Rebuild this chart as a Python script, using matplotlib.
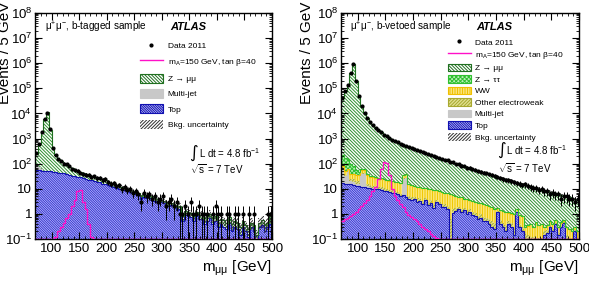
import numpy as np
import matplotlib
matplotlib.use('Agg')
import matplotlib.pyplot as plt
from matplotlib.patches import Patch
from matplotlib.lines import Line2D
from matplotlib.ticker import FixedLocator, FixedFormatter, MultipleLocator, LogLocator, NullFormatter

plt.rcParams['font.family'] = ['Liberation Sans', 'DejaVu Sans']
plt.rcParams['mathtext.fontset'] = 'custom'
plt.rcParams['mathtext.rm'] = 'Liberation Sans'
plt.rcParams['mathtext.it'] = 'Liberation Sans:italic'
plt.rcParams['mathtext.bf'] = 'Liberation Sans:bold'
plt.rcParams['hatch.linewidth'] = 0.7

# ---------------- data (5 GeV bins from 70 to 500 GeV) ----------------
bin_edges = np.arange(70, 505, 5)

# b-tagged sample
top_b = [56, 54, 52, 51, 50, 49, 47, 45, 44, 43,
         41, 38, 36, 33, 32, 30, 29, 27, 25, 23,
         22, 20, 19, 18, 16, 15, 14, 13, 12, 11,
         10, 9.5, 9, 8, 7.5, 6.5, 6, 5.5, 3.8, 4.8,
         4.2, 4.2, 3.7, 3.4, 3.1, 2.9, 2.6, 2.3, 2.1, 2.2,
         1.8, 1.4, 1.6, 0.5, 0.9, 0.85, 0.75, 0.5, 0.85, 0.6,
         0.6, 0.4, 0.5, 0.7, 0.4, 0.5, 0.3, 0.4, 0.3, 0.25,
         0.45, 0.2, 0.3, 0.25, 0.15, 0.3, 0.2, 0.12, 0.3, 0.2,
         0.05, 0.3, 0.35, 0.2, 0.3, 0.4]
multijet_b = [30, 20, 10, 0, 0, 0, 0, 0, 0, 0,
              0, 0, 0, 0, 0, 0, 0, 0, 0, 0,
              0, 0, 0, 0, 0, 0, 0, 0, 0, 0,
              0, 0, 0, 0, 0, 0, 0, 0, 0, 0,
              0, 0, 0, 0, 0, 0, 0, 0, 0, 0,
              0, 0, 0, 0, 0, 0, 0, 0, 0, 0,
              0, 0, 0, 0, 0, 0, 0, 0, 0, 0,
              0, 0, 0, 0, 0, 0, 0, 0, 0, 0,
              0, 0, 0, 0, 0, 0]
zmumu_b = [165, 525, 1740, 5950, 10950, 2150, 350, 175, 116, 82,
           64, 52, 39, 32, 25, 20, 16, 14, 13, 12,
           10, 10, 9, 8, 8, 7, 6, 4, 3, 3,
           3, 2.5, 2, 2, 1.5, 1.5, 1, 1, 1.2, 1,
           1, 0.8, 0.8, 0.8, 0.7, 0.6, 0.6, 0.6, 0.5, 0.5,
           0.5, 0.4, 0.4, 0.3, 0.4, 0.35, 0.35, 0.3, 0.35, 0.3,
           0.3, 0.3, 0.3, 0.3, 0.3, 0.3, 0.25, 0.25, 0.25, 0.2,
           0.3, 0.2, 0.2, 0.2, 0.15, 0.2, 0.15, 0.13, 0.15, 0.15,
           0.1, 0.15, 0.2, 0.15, 0.15, 0.5]
unc_b = [0.06, 0.06, 0.06, 0.06, 0.06, 0.06, 0.06, 0.06, 0.06, 0.06,
         0.08, 0.08, 0.08, 0.08, 0.08, 0.08, 0.08, 0.08, 0.08, 0.08,
         0.1, 0.1, 0.1, 0.1, 0.1, 0.1, 0.1, 0.1, 0.1, 0.1,
         0.15, 0.15, 0.15, 0.15, 0.15, 0.15, 0.15, 0.15, 0.15, 0.15,
         0.2, 0.2, 0.2, 0.2, 0.2, 0.2, 0.2, 0.2, 0.2, 0.2,
         0.3, 0.3, 0.3, 0.3, 0.3, 0.3, 0.3, 0.3, 0.3, 0.3,
         0.4, 0.4, 0.4, 0.4, 0.4, 0.4, 0.4, 0.4, 0.4, 0.4,
         0.5, 0.5, 0.5, 0.5, 0.5, 0.5, 0.5, 0.5, 0.5, 0.5,
         0.5, 0.5, 0.5, 0.5, 0.5, 0.5]
data_b = [260, 620, 1750, 6100, 10800, 2300, 420, 230, 150, 130,
          100, 95, 80, 60, 55, 52, 44, 40, 36, 37,
          30, 31, 26, 27, 22, 24, 19, 16, 17, 13,
          14, 10, 12, 9, 10, 7, 8, 6, 3, 7,
          5, 6, 4, 5, 3, 4, 5, 2, 3, 4,
          2, 3, 1, 1, 2, 1, 3, 1, 1, 2,
          1, 1, 1, 0, 1, 2, 1, 1, 0, 1,
          1, 0, 1, 1, 0, 1, 0, 1, 0, 1,
          0, 0, 0, 0, 1, 1]
signal_b = [0, 0, 0, 0, 0, 0, 0, 0.12, 0.2, 0.3,
            0.45, 0.7, 1.0, 2.0, 3.5, 8, 9, 3, 1.5, 0.4,
            0.12, 0, 0, 0, 0, 0, 0, 0, 0, 0,
            0, 0, 0, 0, 0, 0, 0, 0, 0, 0,
            0, 0, 0, 0, 0, 0, 0, 0, 0, 0,
            0, 0, 0, 0, 0, 0, 0, 0, 0, 0,
            0, 0, 0, 0, 0, 0, 0, 0, 0, 0,
            0, 0, 0, 0, 0, 0, 0, 0, 0, 0,
            0, 0, 0, 0, 0, 0]

# b-vetoed sample
top_v = [17, 16, 15, 15, 14, 13, 13, 12, 12, 11,
         11, 10, 10, 9.5, 9, 8.5, 8, 7.5, 7, 6.5,
         6, 5, 5.5, 4.5, 4, 3.5, 3.8, 3, 3.2, 2.5,
         3.5, 2.2, 2.8, 1.7, 3.0, 2.4, 1.8, 1.9, 1.5, 0.1,
         1.1, 1.3, 1.5, 1.2, 1.4, 1.0, 1.2, 0.9, 0.8, 0.6,
         0.7, 0.5, 0.5, 0.4, 0.3, 0.25, 1.2, 0.4, 0.3, 0.2,
         0.4, 0.3, 0.15, 1.2, 0.3, 0.2, 0.1, 0.06, 0.05, 0.05,
         0.05, 0.05, 0.05, 0.15, 0.18, 0.3, 0.2, 0.4, 0.15, 0.3,
         0.45, 0.1, 0.05, 0.05, 0.2, 0.05]
multijet_v = [50, 15, 35, 5, 5, 3, 3, 28, 28, 2,
              1, 1, 1, 0.5, 0.5, 0, 0, 0, 0, 0,
              0, 0, 20, 22, 0, 0, 0, 0, 0, 0,
              0, 0, 0, 0, 0, 0, 0, 0, 0, 0,
              0, 0, 0, 0, 0, 0, 0, 0, 0, 0,
              0, 0, 0, 0, 0, 0, 0, 0, 0, 0,
              0, 0, 0, 0, 0, 0, 0, 0, 0, 0,
              0, 0, 0, 0, 0, 0, 0, 0, 0, 0,
              0, 0, 0, 0, 0, 0]
ew_v = [6, 5, 5, 5, 5, 4, 4, 3, 3, 3,
        2.5, 2.5, 2.3, 2.2, 2, 2, 1.8, 1.8, 1.6, 1.6,
        1.5, 1.4, 1.3, 1.3, 1.2, 1.1, 1.1, 1, 1, 0.9,
        0.9, 0.8, 0.8, 0.7, 0.7, 0.6, 0.6, 0.6, 0.5, 0.5,
        0.5, 0.4, 0.4, 0.4, 0.35, 0.35, 0.3, 0.3, 0.3, 0.25,
        0.25, 0.25, 0.2, 0.2, 0.2, 0.2, 0.15, 0.15, 0.15, 0.15,
        0.12, 0.12, 0.1, 0.1, 0.1, 0.1, 0.08, 0.08, 0.07, 0.07,
        0.06, 0.06, 0.06, 0.05, 0.05, 0.05, 0.05, 0.05, 0.04, 0.04,
        0.04, 0.04, 0.04, 0.03, 0.03, 0.03]
ww_v = [7, 14, 5, 15, 16, 15, 15, 12, 12, 19,
        15.5, 16.5, 14.7, 13.8, 13.5, 13.5, 12.2, 11.7, 11.4, 10.9,
        10.5, 10.6, 9.2, 10, 9.8, 9.4, 8.1, 8, 7.8, 7.6,
        6.6, 7, 6.4, 6.6, 5.3, 5, 5.1, 4.5, 4.5, 5.4,
        3.9, 3.3, 2.6, 2.9, 2.25, 2.65, 2, 2, 1.9, 1.95,
        1.65, 1.65, 1.5, 1.4, 1.3, 1.15, 0.3, 0.85, 0.85, 0.85,
        0.6, 0.6, 0.75, 0.3, 0.5, 0.5, 0.12, 0.2, 0.28, 0.18,
        0.34, 0.24, 0.29, 0.1, 0.12, 0.15, 0.15, 0.1, 0.11, 0.11,
        0.05, 0.16, 0.16, 0.12, 0.07, 0.12]
ztautau_v = [150, 120, 90, 60, 40, 20, 10, 6, 4, 3,
             2, 1.5, 1.2, 1, 0.8, 0.7, 0.6, 0.5, 0.45, 0.4,
             0.35, 0.3, 0.3, 0.25, 0.2, 0.2, 0.18, 0.16, 0.15, 0.14,
             0.13, 0.12, 0.11, 0.1, 0.1, 0.09, 0.08, 0.08, 0.07, 0.07,
             0.06, 0.06, 0.05, 0.05, 0.05, 0.04, 0.04, 0.04, 0.04, 0.03,
             0.03, 0.03, 0.03, 0.03, 0.02, 0.02, 0.02, 0.02, 0.02, 0.02,
             0.02, 0.02, 0.02, 0.02, 0.02, 0.02, 0.01, 0.01, 0.01, 0.01,
             0.01, 0.01, 0.01, 0.01, 0.01, 0.01, 0.01, 0.01, 0.01, 0.01,
             0.01, 0.01, 0.01, 0.01, 0.01, 0.01]
zmumu_v = [39800, 74800, 139850, 420000, 900000, 200000, 49950, 19940, 9940, 6460,
           4570, 3470, 2670, 2120, 1725, 1425, 1197, 1029, 880, 771,
           682, 603, 524, 465, 445, 406, 372, 338, 308, 279,
           254, 230, 210, 191, 176, 162, 148.5, 136, 124.5, 114,
           104.5, 96, 88.5, 81.5, 75, 69, 63.5, 58.8, 54, 50.2,
           46.4, 42.6, 39.8, 37, 34.2, 31.4, 28.85, 26.6, 24.7, 22.8,
           21.4, 20, 18.5, 16.6, 15.9, 14.8, 14.2, 13.15, 12.1, 11.3,
           10.35, 9.65, 8.9, 8.4, 7.75, 7, 6.6, 6, 5.8, 5.25,
           4.8, 4.7, 4.35, 4.1, 3.7, 3.5]
unc_v = [0.03, 0.03, 0.03, 0.03, 0.03, 0.03, 0.03, 0.03, 0.03, 0.03,
         0.04, 0.04, 0.04, 0.04, 0.04, 0.04, 0.04, 0.04, 0.04, 0.04,
         0.05, 0.05, 0.05, 0.05, 0.05, 0.05, 0.05, 0.05, 0.05, 0.05,
         0.06, 0.06, 0.06, 0.06, 0.06, 0.06, 0.06, 0.06, 0.06, 0.06,
         0.08, 0.08, 0.08, 0.08, 0.08, 0.08, 0.08, 0.08, 0.08, 0.08,
         0.1, 0.1, 0.1, 0.1, 0.1, 0.1, 0.1, 0.1, 0.1, 0.1,
         0.12, 0.12, 0.12, 0.12, 0.12, 0.12, 0.12, 0.12, 0.12, 0.12,
         0.15, 0.15, 0.15, 0.15, 0.15, 0.15, 0.15, 0.15, 0.15, 0.15,
         0.15, 0.15, 0.15, 0.15, 0.15, 0.15]
data_v = [41000, 76000, 138000, 425000, 890000, 205000, 51000, 19800, 10100, 6400,
          4650, 3450, 2720, 2130, 1770, 1440, 1230, 1040, 910, 780,
          710, 610, 570, 500, 465, 415, 390, 345, 325, 285,
          270, 236, 225, 195, 190, 165, 160, 140, 135, 115,
          112, 98, 96, 84, 82, 70, 69, 60, 58, 50,
          48, 44, 41, 38, 35, 33, 30, 28, 24, 23,
          22, 20, 19, 17, 16, 14, 15, 13, 12, 11,
          11, 9, 10, 8, 8, 6, 7, 6, 6, 4,
          5, 5, 4, 4, 3, 4]
signal_v = [0.5, 0.6, 0.7, 0.8, 1.0, 1.2, 1.5, 2, 2.6, 3.5,
            5, 8, 12, 25, 60, 115, 110, 35, 10, 5,
            3.5, 2.5, 1.8, 1.2, 0.9, 0.75, 0.6, 0.5, 0.4, 0.3,
            0.25, 0.2, 0.16, 0.13, 0.11, 0.1, 0, 0, 0, 0,
            0, 0, 0, 0, 0, 0, 0, 0, 0, 0,
            0, 0, 0, 0, 0, 0, 0, 0, 0, 0,
            0, 0, 0, 0, 0, 0, 0, 0, 0, 0,
            0, 0, 0, 0, 0, 0, 0, 0, 0, 0,
            0, 0, 0, 0, 0, 0]

ytick_vals = [1e-1, 1, 10, 1e2, 1e3, 1e4, 1e5, 1e6, 1e7, 1e8]
ytick_labels = [r'$10^{-1}$', '1', '10', r'$10^{2}$', r'$10^{3}$', r'$10^{4}$',
                r'$10^{5}$', r'$10^{6}$', r'$10^{7}$', r'$10^{8}$']
xtick_vals = [100, 150, 200, 250, 300, 350, 400, 450, 500]

# ---------------- styles ----------------
C_ZMM = dict(face='white', hatch='\\' * 10, hcol='#2f8f2f', line='#1f6f1f')
C_ZTT = dict(face='#b8f0b8', hatch='x' * 8, hcol='#30c030', line='#30c030')
C_WW = dict(face='#fff4b0', hatch='|' * 10, hcol='#f0c800', line='#f0c000')
C_EW = dict(face='#e0e090', hatch='/' * 10, hcol='#a8a830', line=None)
C_MJ = dict(face='#c8c8c8', hatch=None, hcol='#c8c8c8', line=None)
C_TOP = dict(face='#c8c8ff', hatch='\\' * 14, hcol='#3434d0', line='#1010b0')
UNC_HATCH = '/' * 10
SIG_COL = '#ff10c8'

W, H = 589, 281
fig = plt.figure(figsize=(W / 100, H / 100), dpi=100)


def px_axes(x0, x1, y0, y1):
    return fig.add_axes([x0 / W, 1 - y1 / H, (x1 - x0) / W, (y1 - y0) / H])


def draw_panel(ax, layers, unc, data, signal):
    edges = bin_edges
    nb = len(edges) - 1
    centers = 0.5 * (edges[:-1] + edges[1:])
    lower = np.full(nb, 1e-4)
    for vals, st in layers:
        upper = lower + np.asarray(vals, float)
        ax.stairs(upper, edges, baseline=lower, fill=True, facecolor=st['face'],
                  edgecolor=st['hcol'], hatch=st['hatch'], linewidth=0, zorder=1)
        lower = upper
    lo2 = np.full(nb, 1e-4)
    for vals, st in layers:
        up2 = lo2 + np.asarray(vals, float)
        if st['line']:
            ax.stairs(up2, edges, baseline=None, color=st['line'], lw=0.8, zorder=2)
        lo2 = up2
    total = lower
    u = np.asarray(unc)
    ax.stairs(total * (1 + u), edges, baseline=total * (1 - u), fill=True,
              facecolor='none', edgecolor='#303030', hatch=UNC_HATCH, linewidth=0, zorder=3)
    sig = np.maximum(np.asarray(signal, float), 0.1)
    ax.stairs(sig, edges, baseline=None, color=SIG_COL, lw=1.0, zorder=4)
    d = np.asarray(data, float)
    m = d > 0
    err = np.sqrt(d[m])
    lo = np.minimum(err, d[m] * 0.9999)
    ax.errorbar(centers[m], d[m], yerr=[lo, err], fmt='o', ms=2.0, color='black',
                elinewidth=0.7, capsize=0, zorder=5)

    ax.set_yscale('log')
    ax.set_ylim(1e-1, 1e8)
    ax.set_xlim(70, 500)
    ax.yaxis.set_major_locator(FixedLocator(ytick_vals))
    ax.yaxis.set_major_formatter(FixedFormatter(ytick_labels))
    ax.yaxis.set_minor_locator(LogLocator(base=10, subs=np.arange(2, 10), numticks=20))
    ax.yaxis.set_minor_formatter(NullFormatter())
    ax.xaxis.set_major_locator(FixedLocator(xtick_vals))
    ax.xaxis.set_minor_locator(MultipleLocator(10))
    ax.tick_params(which='both', direction='in', top=True, right=True, labelsize=9.5)
    ax.tick_params(which='major', length=5, width=0.8)
    ax.tick_params(which='minor', length=2.5, width=0.6)
    ax.tick_params(axis='x', pad=3)
    ax.tick_params(axis='y', pad=2)
    for s in ax.spines.values():
        s.set_linewidth(1.0)


def legend_handles(entries):
    hs = []
    for kind, st in entries:
        if kind == 'data':
            hs.append(Line2D([], [], marker='o', ls='none', ms=2.0, color='black'))
        elif kind == 'sig':
            hs.append(Line2D([], [], color=SIG_COL, lw=1.0))
        elif kind == 'unc':
            hs.append(Patch(facecolor='none', edgecolor='#303030', hatch=UNC_HATCH, lw=0))
        else:
            hs.append(Patch(facecolor=st['face'], edgecolor=st['line'] or st['hcol'],
                            hatch=st['hatch'], lw=0.8))
    return hs


sig_label = r'$\mathregular{m_{A}}$=150 GeV, tan β=40'

# ---------------- left panel ----------------
axL = px_axes(35, 272, 13, 239)
draw_panel(axL, [(top_b, C_TOP), (multijet_b, C_MJ), (zmumu_b, C_ZMM)], unc_b, data_b, signal_b)
hL = legend_handles([('data', None), ('sig', None), ('h', C_ZMM), ('h', C_MJ), ('h', C_TOP), ('unc', None)])
labL = ['Data 2011', sig_label, 'Z → μμ', 'Multi-jet', 'Top', 'Bkg. uncertainty']
axL.legend(hL, labL, loc='upper left', bbox_to_anchor=((140 - 35) / 237, 1 - (41 - 13) / 226),
           frameon=False, fontsize=6, borderpad=0, borderaxespad=0, handlelength=2.7,
           handleheight=1.3, handletextpad=0.6, labelspacing=0.72)
axL.text(0.042, 0.938, r'$\mathregular{μ^{+}μ^{-}}$, b-tagged sample', transform=axL.transAxes,
         fontsize=7.2, va='center', ha='left')
axL.text(0.57, 0.938, 'ATLAS', transform=axL.transAxes, fontsize=8, fontweight='bold',
         fontstyle='italic', va='center', ha='left')
axL.text(0.652, 0.381, '∫', transform=axL.transAxes, fontsize=12, va='center', ha='left',
         family=['DejaVu Sans'])
axL.text(0.69, 0.381, r'L dt = 4.8 fb$^{\mathregular{-1}}$', transform=axL.transAxes,
         fontsize=7, va='center', ha='left')
axL.text(0.654, 0.31, r'$\sqrt{\mathregular{s}}$ = 7 TeV', transform=axL.transAxes,
         fontsize=7, va='center', ha='left')

# ---------------- right panel ----------------
axR = px_axes(341, 579, 13, 239)
draw_panel(axR, [(top_v, C_TOP), (multijet_v, C_MJ), (ew_v, C_EW), (ww_v, C_WW),
                 (ztautau_v, C_ZTT), (zmumu_v, C_ZMM)], unc_v, data_v, signal_v)
hR = legend_handles([('data', None), ('sig', None), ('h', C_ZMM), ('h', C_ZTT), ('h', C_WW),
                     ('h', C_EW), ('h', C_MJ), ('h', C_TOP), ('unc', None)])
labR = ['Data 2011', sig_label, 'Z → μμ', 'Z → ττ', 'WW', 'Other electroweak', 'Multi-jet', 'Top',
        'Bkg. uncertainty']
axR.legend(hR, labR, loc='upper left', bbox_to_anchor=((448 - 341) / 238, 1 - (38 - 13) / 226),
           frameon=False, fontsize=6, borderpad=0, borderaxespad=0, handlelength=2.7,
           handleheight=1.0, handletextpad=0.5, labelspacing=0.36)
axR.text(0.038, 0.938, r'$\mathregular{μ^{+}μ^{-}}$, b-vetoed sample', transform=axR.transAxes,
         fontsize=7.2, va='center', ha='left')
axR.text(0.567, 0.938, 'ATLAS', transform=axR.transAxes, fontsize=8, fontweight='bold',
         fontstyle='italic', va='center', ha='left')
axR.text(0.656, 0.394, '∫', transform=axR.transAxes, fontsize=12, va='center', ha='left',
         family=['DejaVu Sans'])
axR.text(0.694, 0.394, r'L dt = 4.8 fb$^{\mathregular{-1}}$', transform=axR.transAxes,
         fontsize=7, va='center', ha='left')
axR.text(0.66, 0.314, r'$\sqrt{\mathregular{s}}$ = 7 TeV', transform=axR.transAxes,
         fontsize=7, va='center', ha='left')

# axis titles
for xc in (5, 307):
    fig.text(xc / W, 1 - 2 / H, 'Events / 5 GeV', rotation=90, ha='center', va='top', fontsize=11)
for xr in (272, 579):
    fig.text(xr / W, 1 - 268 / H, r'$\mathregular{m_{μμ}}$ [GeV]', ha='right', va='center',
             fontsize=11)

fig.savefig('out.png', dpi=100)
